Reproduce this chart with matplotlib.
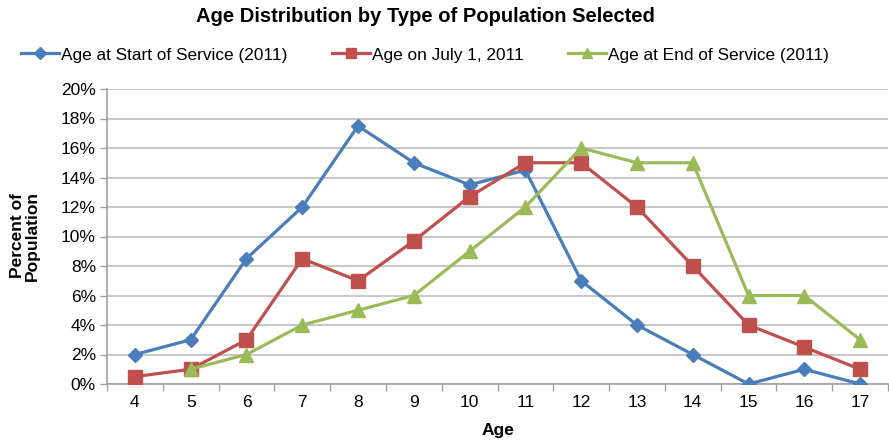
import matplotlib
matplotlib.use("Agg")
import matplotlib.pyplot as plt
from matplotlib.ticker import FixedLocator, PercentFormatter

plt.rcParams['font.family'] = ['Liberation Sans', 'DejaVu Sans']

ages = [4, 5, 6, 7, 8, 9, 10, 11, 12, 13, 14, 15, 16, 17]
start_service = [2, 3, 8.5, 12, 17.5, 15, 13.5, 14.5, 7, 4, 2, 0, 1, 0]
july_1 = [0.5, 1, 3, 8.5, 7, 9.7, 12.7, 15, 15, 12, 8, 4, 2.5, 1]
end_ages = [5, 6, 7, 8, 9, 10, 11, 12, 13, 14, 15, 16, 17]
end_service = [1, 2, 4, 5, 6, 9, 12, 16, 15, 15, 6, 6, 3]
labels = ["Age at Start of Service (2011)", "Age on July 1, 2011", "Age at End of Service (2011)"]
yticks = [0, 2, 4, 6, 8, 10, 12, 14, 16, 18, 20]

fig = plt.figure(figsize=(8.89, 4.42), dpi=100)
ax = fig.add_axes([107/889, 1-384/442, 781/889, 295/442])

blue, red, green = '#4A7EBB', '#C0504D', '#9BBB59'
l1, = ax.plot(ages, start_service, color=blue, lw=2.3, marker='D', ms=7.5, zorder=3)
l2, = ax.plot(ages, july_1, color=red, lw=2.3, marker='s', ms=9.5, zorder=3)
l3, = ax.plot(end_ages, end_service, color=green, lw=2.3, marker='^', ms=9.5, zorder=3)

ax.set_xlim(3.5, 17.5)
ax.set_ylim(0, 20)
ax.set_yticks(yticks)
ax.yaxis.set_major_formatter(PercentFormatter(decimals=0))
ax.set_xticks(ages)
ax.xaxis.set_minor_locator(FixedLocator([a + 0.5 for a in range(3, 18)]))
ax.tick_params(axis='x', which='major', length=0, pad=8, labelsize=12.5)
ax.tick_params(axis='x', which='minor', length=5, color='#A0A0A0', width=1)
ax.tick_params(axis='y', length=5, color='#A0A0A0', width=1, labelsize=12.5, pad=3)
ax.grid(axis='y', color='#C8C8C8', lw=1.5, zorder=0)
ax.set_axisbelow(True)
for s in ['top', 'right']:
    ax.spines[s].set_visible(False)
for s in ['left', 'bottom']:
    ax.spines[s].set_color('#A0A0A0')
    ax.spines[s].set_linewidth(1.2)

fig.text(425/889, 1-16/442, "Age Distribution by Type of Population Selected",
         ha='center', va='center', fontsize=14.5, fontweight='bold')
fig.legend([l1, l2, l3], labels, loc='center', bbox_to_anchor=(425/889, 1-55/442),
           ncol=3, frameon=False, fontsize=12.4, handlelength=2.2, handletextpad=0.1,
           columnspacing=2.6, markerscale=0.75)
fig.text(25/889, 1-236/442, "Percent of\nPopulation", rotation=90, ha='center', va='center',
         fontsize=12.5, fontweight='bold', linespacing=1.0)
fig.text(498/889, 1-430/442, "Age", ha='center', va='center', fontsize=12.5, fontweight='bold')

fig.savefig("out.png", dpi=100)
